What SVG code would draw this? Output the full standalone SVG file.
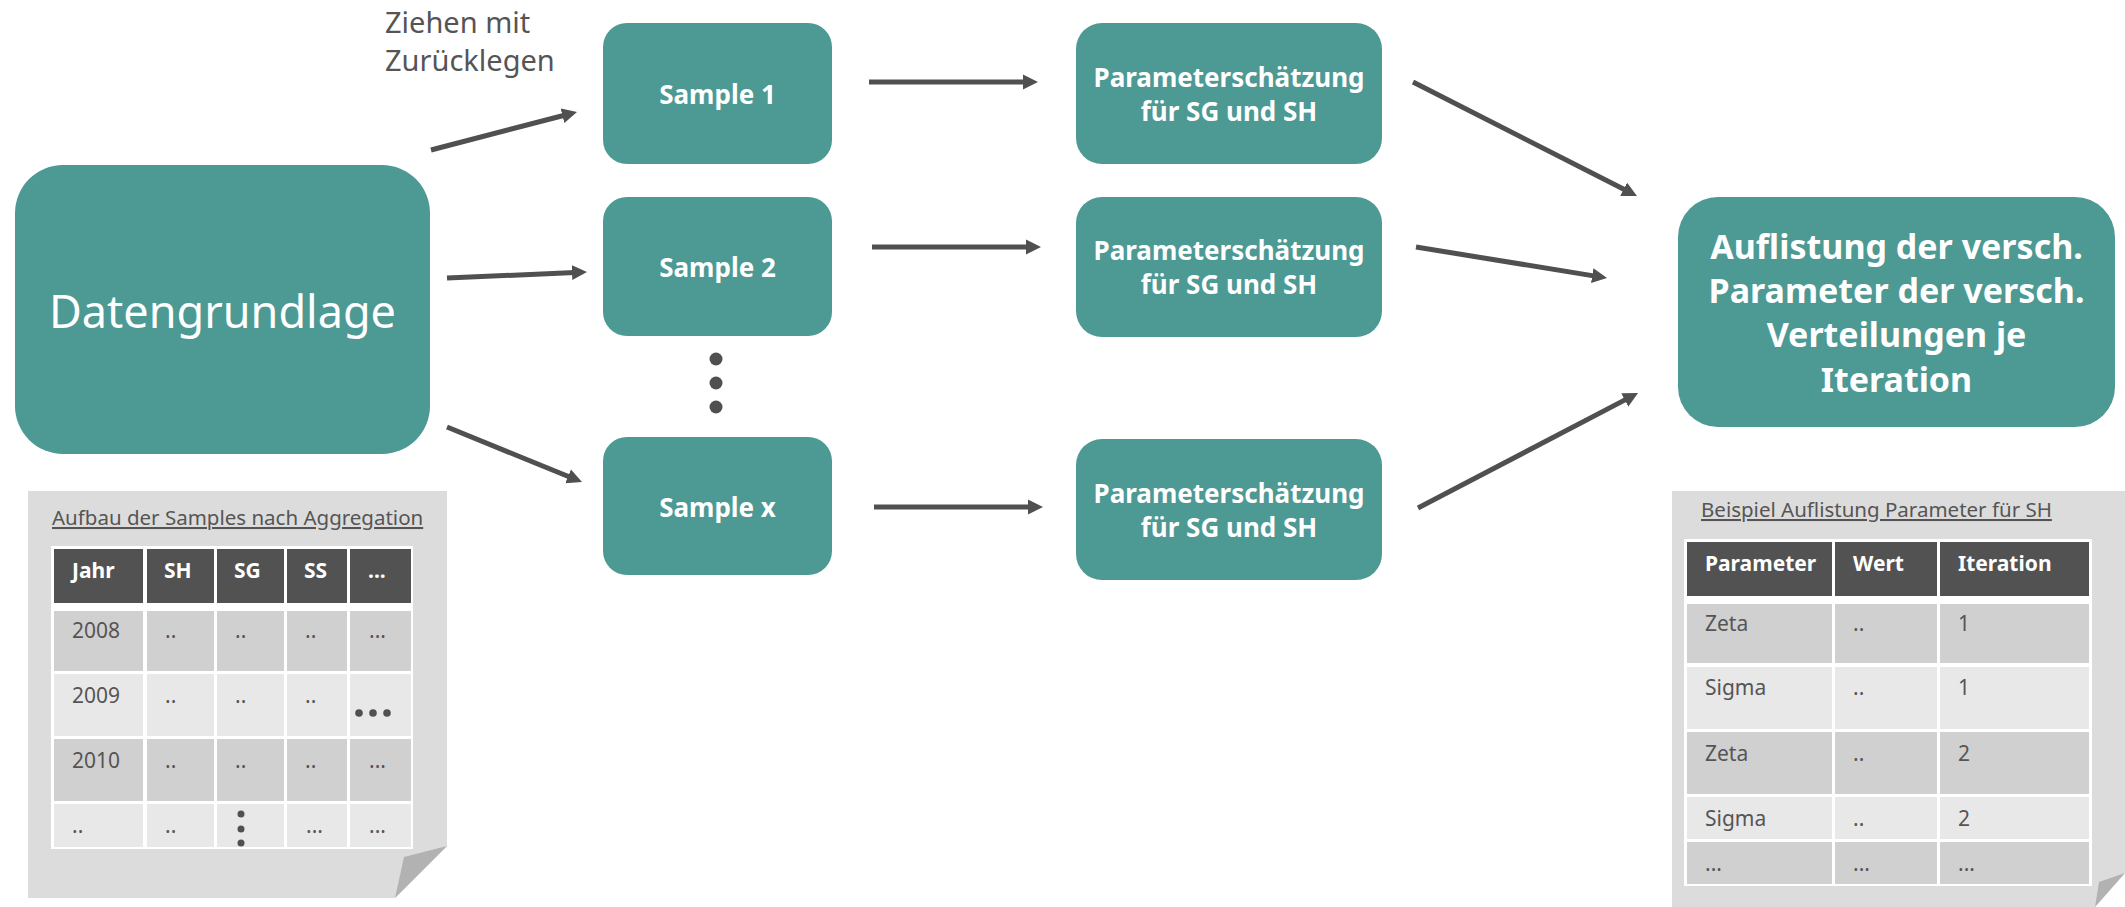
<svg xmlns="http://www.w3.org/2000/svg" width="2125" height="907" viewBox="0 0 2125 907">
<defs>
<style>
.box{fill:#4D9994;}
.bt{fill:#fff;font-family:"Noto Sans","Open Sans",sans-serif;font-weight:bold;text-anchor:middle;}
.lbl{fill:#555;font-family:"Noto Sans","Open Sans",sans-serif;}
.conn{stroke:#505050;stroke-width:5;fill:none;marker-end:url(#ah);}
.page{fill:#DCDCDC;}
.fold{fill:#B2B2B2;}
.th{fill:#525252;}
.r1{fill:#D0D0D0;}
.r2{fill:#E8E8E8;}
.tw{fill:#fff;}
.hd{fill:#fff;font-family:"Noto Sans","Open Sans",sans-serif;font-weight:bold;font-size:21px;}
.td{fill:#555;font-family:"Noto Sans","Open Sans",sans-serif;font-size:21px;}
.ttl{fill:#555;font-family:"Noto Sans","Open Sans",sans-serif;font-size:20.5px;text-decoration:underline;}
.dot{fill:#505050;}
</style>
<marker id="ah" markerUnits="userSpaceOnUse" markerWidth="16" markerHeight="16" viewBox="0 0 16 16" refX="3" refY="8" orient="auto">
<path d="M0,0.5 L15,8 L0,15.5 z" fill="#505050"/>
</marker>
</defs>
<rect width="2125" height="907" fill="#fff"/>

<g id="connectors">
<line class="conn" x1="431" y1="150" x2="565.4" y2="115"/>
<line class="conn" x1="447" y1="278" x2="575" y2="272.5"/>
<line class="conn" x1="447" y1="427" x2="570.9" y2="477.5"/>
<line class="conn" x1="869" y1="82" x2="1026" y2="82"/>
<line class="conn" x1="872" y1="247" x2="1029" y2="247"/>
<line class="conn" x1="874" y1="507" x2="1031" y2="507"/>
<line class="conn" x1="1413" y1="82" x2="1626.3" y2="190.6"/>
<line class="conn" x1="1416" y1="247" x2="1595.2" y2="276.1"/>
<line class="conn" x1="1418" y1="508" x2="1627.4" y2="398.6"/>
</g>

<g id="label-ziehen">
<text class="lbl" font-size="29" x="385" y="33">Ziehen mit</text>
<text class="lbl" font-size="29" x="385" y="71">Zurücklegen</text>
</g>

<g id="datengrundlage">
<rect class="box" x="15" y="165" width="415" height="289" rx="48" ry="48"/>
<text x="222.5" y="328" fill="#fff" font-family="Noto Sans, Open Sans, sans-serif" font-size="45" text-anchor="middle">Datengrundlage</text>
</g>

<g id="sample1">
<rect class="box" x="603" y="23" width="229" height="141" rx="24" ry="24"/>
<text class="bt" font-size="26" x="717.5" y="104">Sample 1</text>
</g>
<g id="sample2">
<rect class="box" x="603" y="197" width="229" height="139" rx="24" ry="24"/>
<text class="bt" font-size="26" x="717.5" y="277">Sample 2</text>
</g>
<g id="ellipsis-samples">
<circle class="dot" cx="716" cy="359" r="6.5"/>
<circle class="dot" cx="716" cy="383" r="6.5"/>
<circle class="dot" cx="716" cy="407" r="6.5"/>
</g>
<g id="samplex">
<rect class="box" x="603" y="437" width="229" height="138" rx="24" ry="24"/>
<text class="bt" font-size="26" x="717.5" y="517">Sample x</text>
</g>

<g id="param1">
<rect class="box" x="1076" y="23" width="306" height="141" rx="26" ry="26"/>
<text class="bt" font-size="26" x="1229" y="87">Parameterschätzung</text>
<text class="bt" font-size="26" x="1229" y="121">für SG und SH</text>
</g>
<g id="param2">
<rect class="box" x="1076" y="197" width="306" height="140" rx="26" ry="26"/>
<text class="bt" font-size="26" x="1229" y="260">Parameterschätzung</text>
<text class="bt" font-size="26" x="1229" y="294">für SG und SH</text>
</g>
<g id="param3">
<rect class="box" x="1076" y="439" width="306" height="141" rx="26" ry="26"/>
<text class="bt" font-size="26" x="1229" y="503">Parameterschätzung</text>
<text class="bt" font-size="26" x="1229" y="537">für SG und SH</text>
</g>

<g id="auflistung">
<rect class="box" x="1678" y="197" width="437" height="230" rx="40" ry="40"/>
<text class="bt" font-size="34" x="1896.5" y="259">Auflistung der versch.</text>
<text class="bt" font-size="34" x="1896.5" y="303">Parameter der versch.</text>
<text class="bt" font-size="34" x="1896.5" y="347">Verteilungen je</text>
<text class="bt" font-size="34" x="1896.5" y="392">Iteration</text>
</g>

<g id="note-samples">
<polygon class="page" points="28,491 447,491 447,846 395,898 28,898"/>
<polygon class="fold" points="447,846 395,898 404,857"/>
<text class="ttl" x="52" y="525">Aufbau der Samples nach Aggregation</text>
<rect class="tw" x="51" y="546" width="362" height="303"/>
<rect class="th" x="54" y="549" width="89" height="54"/>
<rect class="th" x="147" y="549" width="67" height="54"/>
<rect class="th" x="217" y="549" width="67" height="54"/>
<rect class="th" x="287" y="549" width="60" height="54"/>
<rect class="th" x="350" y="549" width="61" height="54"/>
<g class="r1">
<rect x="54" y="611" width="89" height="60"/><rect x="147" y="611" width="67" height="60"/><rect x="217" y="611" width="67" height="60"/><rect x="287" y="611" width="60" height="60"/><rect x="350" y="611" width="61" height="60"/>
<rect x="54" y="739" width="89" height="62"/><rect x="147" y="739" width="67" height="62"/><rect x="217" y="739" width="67" height="62"/><rect x="287" y="739" width="60" height="62"/><rect x="350" y="739" width="61" height="62"/>
</g>
<g class="r2">
<rect x="54" y="674" width="89" height="62"/><rect x="147" y="674" width="67" height="62"/><rect x="217" y="674" width="67" height="62"/><rect x="287" y="674" width="60" height="62"/><rect x="350" y="674" width="61" height="62"/>
<rect x="54" y="804" width="89" height="43"/><rect x="147" y="804" width="67" height="43"/><rect x="217" y="804" width="67" height="43"/><rect x="287" y="804" width="60" height="43"/><rect x="350" y="804" width="61" height="43"/>
</g>
<text class="hd" x="72" y="578">Jahr</text>
<text class="hd" x="164" y="578">SH</text>
<text class="hd" x="234" y="578">SG</text>
<text class="hd" x="304" y="578">SS</text>
<text class="hd" x="368" y="578">...</text>
<text class="td" x="72" y="638">2008</text>
<text class="td" x="165" y="638">..</text>
<text class="td" x="235" y="638">..</text>
<text class="td" x="305" y="638">..</text>
<text class="td" x="369" y="638">...</text>
<text class="td" x="72" y="703">2009</text>
<text class="td" x="165" y="703">..</text>
<text class="td" x="235" y="703">..</text>
<text class="td" x="305" y="703">..</text>
<circle class="dot" cx="359" cy="713" r="3.8"/>
<circle class="dot" cx="373" cy="713" r="3.8"/>
<circle class="dot" cx="387" cy="713" r="3.8"/>
<text class="td" x="72" y="768">2010</text>
<text class="td" x="165" y="768">..</text>
<text class="td" x="235" y="768">..</text>
<text class="td" x="305" y="768">..</text>
<text class="td" x="369" y="768">...</text>
<text class="td" x="72" y="833">..</text>
<text class="td" x="165" y="833">..</text>
<circle class="dot" cx="241" cy="814" r="3.5"/>
<circle class="dot" cx="241" cy="829" r="3.5"/>
<circle class="dot" cx="241" cy="843" r="3.5"/>
<text class="td" x="306" y="833">...</text>
<text class="td" x="369" y="833">...</text>
</g>

<g id="note-parameter">
<polygon class="page" points="1672,491 2125,491 2125,873 2095,907 1672,907"/>
<polygon class="fold" points="2125,873 2095,907 2099,882"/>
<text class="ttl" x="1701" y="517">Beispiel Auflistung Parameter für SH</text>
<rect class="tw" x="1684" y="539" width="408" height="347"/>
<rect class="th" x="1687" y="542" width="145" height="54"/>
<rect class="th" x="1835" y="542" width="102" height="54"/>
<rect class="th" x="1940" y="542" width="149" height="54"/>
<g class="r1">
<rect x="1687" y="604" width="145" height="59"/><rect x="1835" y="604" width="102" height="59"/><rect x="1940" y="604" width="149" height="59"/>
<rect x="1687" y="732" width="145" height="62"/><rect x="1835" y="732" width="102" height="62"/><rect x="1940" y="732" width="149" height="62"/>
<rect x="1687" y="842" width="145" height="42"/><rect x="1835" y="842" width="102" height="42"/><rect x="1940" y="842" width="149" height="42"/>
</g>
<g class="r2">
<rect x="1687" y="667" width="145" height="62"/><rect x="1835" y="667" width="102" height="62"/><rect x="1940" y="667" width="149" height="62"/>
<rect x="1687" y="797" width="145" height="42"/><rect x="1835" y="797" width="102" height="42"/><rect x="1940" y="797" width="149" height="42"/>
</g>
<text class="hd" x="1705" y="571">Parameter</text>
<text class="hd" x="1853" y="571">Wert</text>
<text class="hd" x="1958" y="571">Iteration</text>
<text class="td" x="1705" y="631">Zeta</text>
<text class="td" x="1853" y="631">..</text>
<text class="td" x="1958" y="631">1</text>
<text class="td" x="1705" y="695">Sigma</text>
<text class="td" x="1853" y="695">..</text>
<text class="td" x="1958" y="695">1</text>
<text class="td" x="1705" y="761">Zeta</text>
<text class="td" x="1853" y="761">..</text>
<text class="td" x="1958" y="761">2</text>
<text class="td" x="1705" y="826">Sigma</text>
<text class="td" x="1853" y="826">..</text>
<text class="td" x="1958" y="826">2</text>
<text class="td" x="1705" y="871">...</text>
<text class="td" x="1853" y="871">...</text>
<text class="td" x="1958" y="871">...</text>
</g>
</svg>
